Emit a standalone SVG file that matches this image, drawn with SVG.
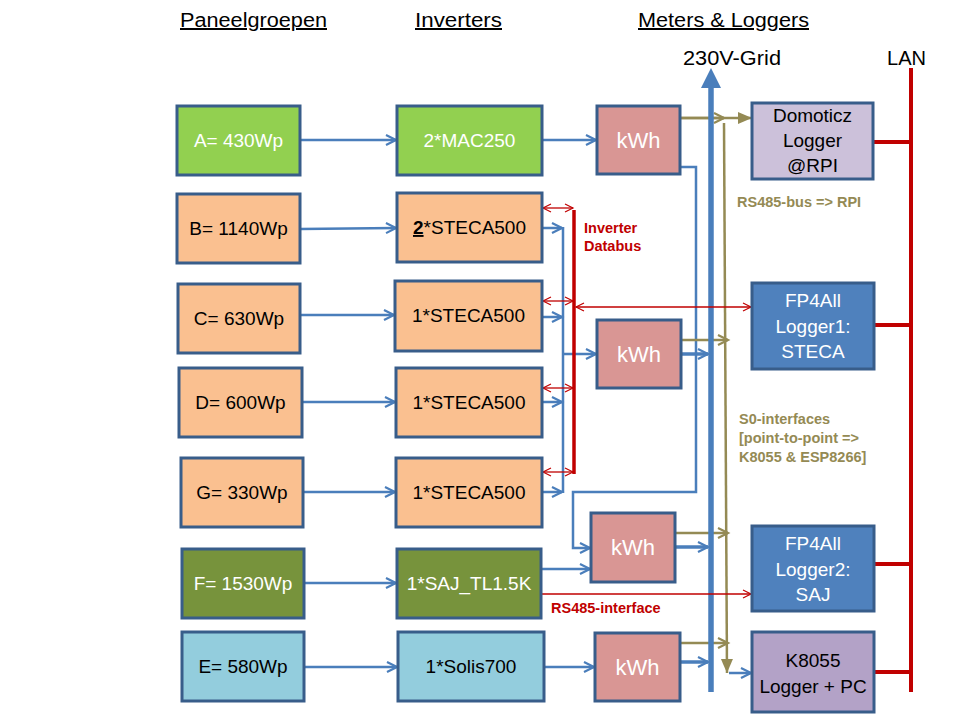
<svg xmlns="http://www.w3.org/2000/svg" width="960" height="720" viewBox="0 0 960 720">
<style>
text{font-family:"Liberation Sans",Arial,sans-serif}
.hdr{font-size:20px;fill:#000;text-decoration:underline}
.ttl{font-size:20px;fill:#000}
.box{stroke:#385d8a;stroke-width:3}
.t{font-size:19px;text-anchor:middle}
.kw{font-size:22px;text-anchor:middle;fill:#fff}
.w{fill:#fff}
.k{fill:#000}
.bl{fill:none;stroke:#4a7ebb;stroke-width:2.5}
.bt{fill:none;stroke:#4a7ebb;stroke-width:3.5}
.ol{fill:none;stroke:#948a54;stroke-width:2.5}
.rd{fill:none;stroke:#c00000;stroke-width:1.3}
.lan{fill:none;stroke:#c00000;stroke-width:4}
.lbr{font-size:14.5px;font-weight:bold;fill:#c00000}
.lbo{font-size:14.5px;font-weight:bold;fill:#948a54}
</style>
<defs>
<marker id="ab" markerUnits="userSpaceOnUse" markerWidth="14" markerHeight="14" refX="11" refY="6" orient="auto" overflow="visible">
<path d="M1,1 L11,6 L1,11" fill="none" stroke="#4a7ebb" stroke-width="2.2"/>
</marker>
<marker id="ao" markerUnits="userSpaceOnUse" markerWidth="14" markerHeight="14" refX="11" refY="6" orient="auto" overflow="visible">
<path d="M1,1 L11,6 L1,11" fill="none" stroke="#948a54" stroke-width="2.2"/>
</marker>
<marker id="aof" markerUnits="userSpaceOnUse" markerWidth="16" markerHeight="14" refX="14" refY="6" orient="auto" overflow="visible">
<path d="M0,0 L14,6 L0,12 Z" fill="#948a54"/>
</marker>
<marker id="ar" markerUnits="userSpaceOnUse" markerWidth="12" markerHeight="12" refX="9" refY="5" orient="auto-start-reverse" overflow="visible">
<path d="M1,1 L9,5 L1,9" fill="none" stroke="#c00000" stroke-width="1.2"/>
</marker>
</defs>
<rect width="960" height="720" fill="#fff"/>

<g id="headers">
<text class="hdr" x="180" y="27" textLength="147" lengthAdjust="spacingAndGlyphs">Paneelgroepen</text>
<text class="hdr" x="415" y="27" textLength="87" lengthAdjust="spacingAndGlyphs">Inverters</text>
<text class="hdr" x="638" y="27" textLength="171" lengthAdjust="spacingAndGlyphs">Meters &amp; Loggers</text>
<text class="ttl" x="683" y="65" textLength="98" lengthAdjust="spacingAndGlyphs">230V-Grid</text>
<text class="ttl" x="887" y="65" textLength="39" lengthAdjust="spacingAndGlyphs">LAN</text>
</g>

<g id="connectors">
<!-- panels to inverters -->
<path class="bl" d="M300,140 H396" marker-end="url(#ab)"/>
<path class="bl" d="M300,229 L396,228" marker-end="url(#ab)"/>
<path class="bl" d="M301,315 H394" marker-end="url(#ab)"/>
<path class="bl" d="M302,402 H395" marker-end="url(#ab)"/>
<path class="bl" d="M303,492 H395" marker-end="url(#ab)"/>
<path class="bl" d="M304,583 H396" marker-end="url(#ab)"/>
<path class="bl" d="M305,667 H397" marker-end="url(#ab)"/>
<!-- inverters to bus / meters -->
<path class="bl" d="M542,140 H596" marker-end="url(#ab)"/>
<path class="bl" d="M542,228 H562" marker-end="url(#ab)"/>
<path class="bl" d="M542,317 H562" marker-end="url(#ab)"/>
<path class="bl" d="M542,402 H562" marker-end="url(#ab)"/>
<path class="bl" d="M542,492 H562" marker-end="url(#ab)"/>
<path class="bl" d="M563,227 V493"/>
<path class="bl" d="M563,354 H596" marker-end="url(#ab)"/>
<path class="bl" d="M541,569 H590" marker-end="url(#ab)"/>
<path class="bl" d="M544,667 H594" marker-end="url(#ab)"/>
<path class="bl" d="M680,167 H696 V492 H573 V548 H590" stroke-width="2" marker-end="url(#ab)"/>
<!-- meters to grid -->
<path class="bt" d="M681,354 H708" marker-end="url(#ab)"/>
<path class="bt" d="M675,547 H708" marker-end="url(#ab)"/>
<path class="bt" d="M680,662 H708" marker-end="url(#ab)"/>
<!-- S0 olive -->
<path class="ol" d="M680,118 H724" marker-end="url(#ao)"/>
<path class="ol" d="M680,118 H752" marker-end="url(#aof)"/>
<path class="ol" d="M724,123 L727,673" marker-end="url(#aof)"/>
<path class="ol" d="M681,340 H728" marker-end="url(#ao)"/>
<path class="ol" d="M675,533 H728" marker-end="url(#ao)"/>
<path class="ol" d="M680,643 H728" marker-end="url(#ao)"/>
<path class="bl" d="M729,673 H751" stroke-width="1.6" marker-end="url(#ab)"/>
<!-- grid -->
<path d="M711,692 V86" fill="none" stroke="#4a7ebb" stroke-width="5.5"/>
<polygon points="701,88 721,88 711,68" fill="#4a7ebb"/>
<!-- databus -->
<path d="M574,210 V474" fill="none" stroke="#c00000" stroke-width="3.5"/>
<path class="rd" d="M543,208 H573" marker-start="url(#ar)" marker-end="url(#ar)"/>
<path class="rd" d="M543,301 H573" marker-start="url(#ar)" marker-end="url(#ar)"/>
<path class="rd" d="M543,388 H573" marker-start="url(#ar)" marker-end="url(#ar)"/>
<path class="rd" d="M543,472 H573" marker-start="url(#ar)" marker-end="url(#ar)"/>
<path class="rd" d="M576,307 H751" marker-start="url(#ar)" marker-end="url(#ar)"/>
<!-- RS485 interface -->
<path class="rd" d="M541,594 H751" marker-end="url(#ar)"/>
<!-- LAN -->
<path class="lan" d="M911,68 V692"/>
<path class="lan" d="M873,142 H911"/>
<path class="lan" d="M874,325 H911"/>
<path class="lan" d="M874,564 H911"/>
<path class="lan" d="M874,672 H911"/>
</g>

<g id="labels">
<text class="lbr" x="584" y="233">Inverter</text>
<text class="lbr" x="584" y="251">Databus</text>
<text class="lbo" x="737" y="207">RS485-bus =&gt; RPI</text>
<text class="lbo" x="739" y="424">S0-interfaces</text>
<text class="lbo" x="739" y="443">[point-to-point =&gt;</text>
<text class="lbo" x="739" y="462">K8055 &amp; ESP8266]</text>
<text class="lbr" x="551" y="613">RS485-interface</text>
</g>

<g id="panel-A"><rect class="box" x="177" y="106" width="123" height="69" fill="#92d050"/><text class="t w" x="238.5" y="147">A= 430Wp</text></g>
<g id="panel-B"><rect class="box" x="177" y="194" width="123" height="69" fill="#fac090"/><text class="t k" x="238.5" y="235">B= 1140Wp</text></g>
<g id="panel-C"><rect class="box" x="178" y="284" width="122" height="69" fill="#fac090"/><text class="t k" x="239" y="325">C= 630Wp</text></g>
<g id="panel-D"><rect class="box" x="179" y="368" width="123" height="69" fill="#fac090"/><text class="t k" x="240.5" y="409">D= 600Wp</text></g>
<g id="panel-G"><rect class="box" x="181" y="458" width="122" height="69" fill="#fac090"/><text class="t k" x="242" y="499">G= 330Wp</text></g>
<g id="panel-F"><rect class="box" x="182" y="549" width="122" height="69" fill="#77933c"/><text class="t w" x="243" y="590">F= 1530Wp</text></g>
<g id="panel-E"><rect class="box" x="182" y="632" width="122" height="69" fill="#93cddd"/><text class="t k" x="243" y="673">E= 580Wp</text></g>

<g id="inv-A"><rect class="box" x="397" y="106" width="145" height="69" fill="#92d050"/><text class="t w" x="469.5" y="147">2*MAC250</text></g>
<g id="inv-B"><rect class="box" x="397" y="193" width="145" height="69" fill="#fac090"/><text class="t k" x="469.5" y="234"><tspan font-weight="bold" text-decoration="underline">2</tspan>*STECA500</text></g>
<g id="inv-C"><rect class="box" x="395" y="281" width="147" height="70" fill="#fac090"/><text class="t k" x="468.5" y="322">1*STECA500</text></g>
<g id="inv-D"><rect class="box" x="396" y="368" width="146" height="69" fill="#fac090"/><text class="t k" x="469" y="409">1*STECA500</text></g>
<g id="inv-G"><rect class="box" x="396" y="458" width="146" height="69" fill="#fac090"/><text class="t k" x="469" y="499">1*STECA500</text></g>
<g id="inv-F"><rect class="box" x="397" y="549" width="144" height="69" fill="#77933c"/><text class="t w" x="469" y="590">1*SAJ_TL1.5K</text></g>
<g id="inv-E"><rect class="box" x="398" y="632" width="146" height="69" fill="#93cddd"/><text class="t k" x="471" y="673">1*Solis700</text></g>

<g id="kwh-1"><rect class="box" x="597" y="106" width="83" height="68" fill="#d99694"/><text class="kw" x="638.5" y="148">kWh</text></g>
<g id="kwh-2"><rect class="box" x="597" y="320" width="84" height="68" fill="#d99694"/><text class="kw" x="639" y="362">kWh</text></g>
<g id="kwh-3"><rect class="box" x="591" y="513" width="84" height="69" fill="#d99694"/><text class="kw" x="633" y="555">kWh</text></g>
<g id="kwh-4"><rect class="box" x="595" y="633" width="85" height="68" fill="#d99694"/><text class="kw" x="637.5" y="675">kWh</text></g>

<g id="domoticz"><rect class="box" x="752" y="103" width="121" height="76" fill="#ccc1da"/>
<text class="t k" x="812.5" y="122">Domoticz</text><text class="t k" x="812.5" y="147">Logger</text><text class="t k" x="812.5" y="172">@RPI</text></g>
<g id="fp4all-1"><rect class="box" x="752" y="283" width="122" height="86" fill="#4f81bd"/>
<text class="t w" x="813" y="307">FP4All</text><text class="t w" x="813" y="333">Logger1:</text><text class="t w" x="813" y="358">STECA</text></g>
<g id="fp4all-2"><rect class="box" x="752" y="526" width="122" height="85" fill="#4f81bd"/>
<text class="t w" x="813" y="550">FP4All</text><text class="t w" x="813" y="576">Logger2:</text><text class="t w" x="813" y="601">SAJ</text></g>
<g id="k8055"><rect class="box" x="752" y="632" width="122" height="80" fill="#b3a2c7"/>
<text class="t k" x="813" y="667">K8055</text><text class="t k" x="813" y="693">Logger + PC</text></g>
</svg>
